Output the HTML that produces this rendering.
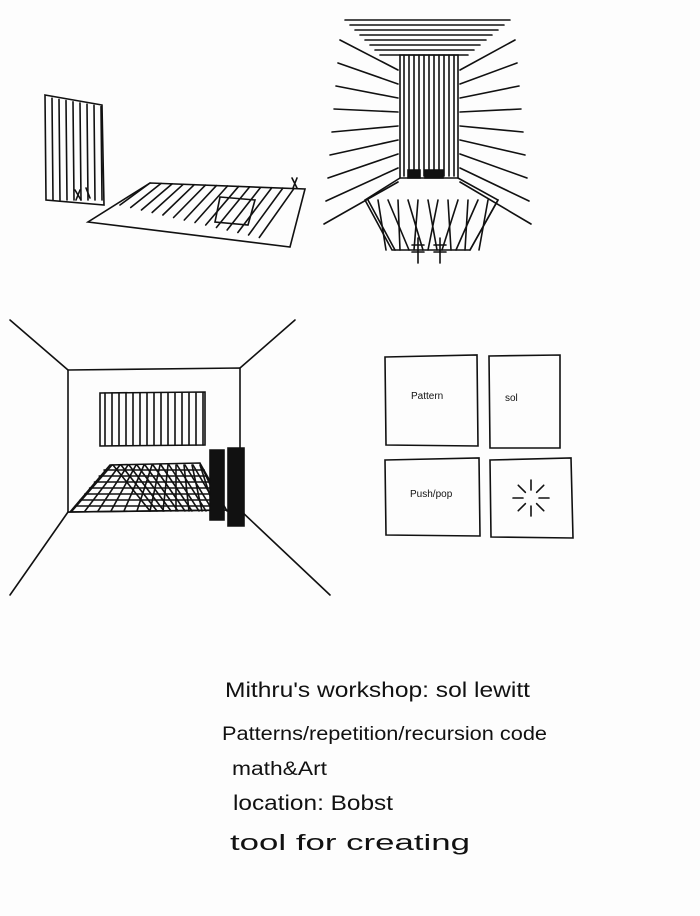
<!DOCTYPE html>
<html><head><meta charset="utf-8"><style>
html,body{margin:0;padding:0;background:#fdfdfd;}
svg{display:block}
text{font-family:"Liberation Sans",sans-serif;fill:#111;}
</style></head><body>
<svg width="700" height="916" viewBox="0 0 700 916" stroke="#111" stroke-width="1.6" fill="none" stroke-linecap="round">
<rect x="0" y="0" width="700" height="916" fill="#fdfdfd" stroke="none"/>
<g id="s1"></g>
<g id="s2"></g>
<g id="s3"></g>
<g>
<path d="M385 357 L477 355 L478 446 L386 445 Z"/>
<path d="M489 356 L560 355 L560 448 L490 448 Z"/>
<path d="M385 460 L479 458 L480 536 L386 535 Z"/>
<path d="M490 460 L571 458 L573 538 L491 537 Z"/>
<text x="411" y="399" font-size="10" stroke="none">Pattern</text>
<text x="505" y="401" font-size="10" stroke="none">sol</text>
<text x="410" y="497" font-size="10" stroke="none">Push/pop</text>
<g id="burst"></g>
</g>
<g stroke="none">
<text x="225" y="697" font-size="21" textLength="305" lengthAdjust="spacingAndGlyphs">Mithru's workshop: sol lewitt</text>
<text x="222" y="740" font-size="19" textLength="325" lengthAdjust="spacingAndGlyphs">Patterns/repetition/recursion  code</text>
<text x="232" y="775" font-size="19" textLength="95" lengthAdjust="spacingAndGlyphs">math&amp;Art</text>
<text x="233" y="810" font-size="21" textLength="160" lengthAdjust="spacingAndGlyphs">location: Bobst</text>
<text x="230" y="850" font-size="22" textLength="240" lengthAdjust="spacingAndGlyphs">tool for creating</text>
</g>
</svg>
<script>
const NS="http://www.w3.org/2000/svg";
function L(g,x1,y1,x2,y2,w){const l=document.createElementNS(NS,'line');l.setAttribute('x1',x1);l.setAttribute('y1',y1);l.setAttribute('x2',x2);l.setAttribute('y2',y2);if(w)l.setAttribute('stroke-width',w);


g.appendChild(l);}
function P(g,d,fill){const p=document.createElementNS(NS,'path');p.setAttribute('d',d);if(fill){p.setAttribute('fill',fill);}


g.appendChild(p);}
// sketch 1
const s1=document.getElementById('s1');
P(s1,'M45 95 L102 105 L104 205 L46 200 Z');
for(let x=52;x<102;x+=7)L(s1,x,97+(x-45)*0.17,x+1,200);
P(s1,'M150 183 L305 189 L290 247 L88 222 Z');
for(let i=0;i<14;i++){const t=i/14;L(s1,150+155*t,183+6*t,120+150*t,205+35*t);}
P(s1,'M220 197 L255 200 L248 225 L215 222 Z');
P(s1,'M75 190 l6 10 M80 190 l-4 10 M86 188 l4 10');
P(s1,'M292 178 l5 10 M297 178 l-4 10');
// sketch 2
const s2=document.getElementById('s2');
for(let i=0;i<8;i++){const y=20+i*5;L(s2,345+i*5,y,510-i*6,y);}
P(s2,'M400 55 L458 55 L458 178 L400 178 Z');
for(let x=404;x<458;x+=5)L(s2,x,56,x,176);
P(s2,'M408 170 h12 v8 h-12 Z M425 170 h18 v8 h-18 Z','#111');
for(let i=0;i<9;i++){const y=70+i*14;L(s2,398,y,340-i*2,y-30+i*9);L(s2,460,y,515+i*2,y-30+i*9);}
P(s2,'M400 178 L365 200 L392 250 L470 250 L498 200 L458 178');
for(let i=0;i<7;i++){L(s2,368+i*20,200,395+i*14,250);L(s2,498-i*20,200,470-i*14,250);}
P(s2,'M418 238 v25 M412 245 h12 M412 252 h12 M440 238 v25 M434 245 h12 M434 252 h12');
// sketch 3
const s3=document.getElementById('s3');
P(s3,'M68 370 L240 368 L240 510 L68 512 Z');
L(s3,10,320,68,370);L(s3,295,320,240,368);L(s3,68,512,10,595);L(s3,240,510,330,595);
P(s3,'M100 393 L205 392 L205 445 L100 446 Z');
for(let x=105;x<205;x+=7)L(s3,x,393,x,445);
P(s3,'M110 465 L200 463 L222 510 L70 512 Z');
for(let i=0;i<12;i++){L(s3,112+i*8,465,72+i*13,511);L(s3,113+i*8,465,150+i*7,511);}
for(let y=470;y<510;y+=6)L(s3,108-(y-465)*0.8,y,202+(y-465)*0.45,y);
P(s3,'M210 450 h14 v70 h-14 Z M228 448 h16 v78 h-16 Z','#111');
// burst
const b=document.getElementById('burst');
for(let i=0;i<8;i++){const a=i*Math.PI/4;L(b,531+Math.cos(a)*8,498+Math.sin(a)*8,531+Math.cos(a)*18,498+Math.sin(a)*18);}
</script>
</body></html>
